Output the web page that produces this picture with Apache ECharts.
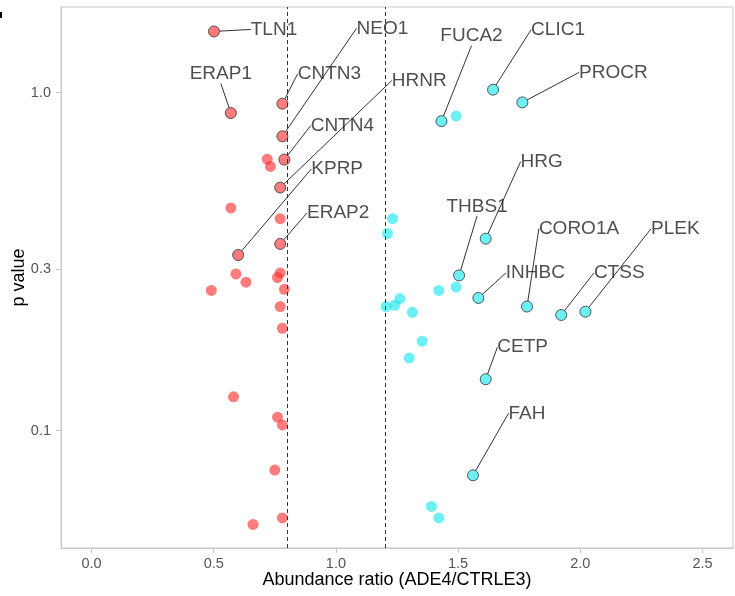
<!DOCTYPE html>
<html>
<head>
<meta charset="utf-8">
<script src="https://cdn.jsdelivr.net/npm/echarts@6/dist/echarts.min.js"></script>
<style>html,body{margin:0;padding:0;background:#fff;}#c{width:735px;height:596px;}</style>
</head>
<body>
<div id="c"></div>
<script>
// ---- data ----
const redX = [0.719,0.732,0.570,0.772,0.591,0.632,0.490,0.772,0.761,0.789,0.772,0.781,0.581,0.761,0.781,0.750,0.781,0.661];
const redP = [0.636,0.605,0.456,0.424,0.291,0.275,0.260,0.293,0.284,0.262,0.233,0.201,0.126,0.1097,0.104,0.0765,0.0552,0.0528];

const redLabNames = ['TLN1','ERAP1','CNTN3','NEO1','CNTN4','HRNR','KPRP','ERAP2'];
const redLabX = [0.501,0.570,0.781,0.781,0.789,0.772,0.600,0.772];
const redLabP = [1.518,0.871,0.928,0.743,0.634,0.524,0.331,0.357];

const cyanX = [1.492,1.232,1.211,1.421,1.492,1.262,1.205,1.241,1.313,1.353,1.300,1.391,1.421];
const cyanP = [0.853,0.424,0.383,0.260,0.266,0.246,0.233,0.235,0.224,0.184,0.164,0.0597,0.0552];

const cyanLabNames = ['CLIC1','PROCR','FUCA2','HRG','THBS1','INHBC','CORO1A','CTSS','PLEK','CETP','FAH'];
const cyanLabX = [1.643,1.763,1.432,1.613,1.504,1.583,1.782,1.922,2.021,1.613,1.561];
const cyanLabP = [1.021,0.936,0.824,0.370,0.288,0.247,0.233,0.220,0.225,0.142,0.0738];

const xTicks = [0.0,0.5,1.0,1.5,2.0,2.5];
const yTicks = [0.1,0.3,1.0];
const cutoffs = [0.8,1.2];

// label offsets (px) from point to label centre (layout only)
const redLabOffset = [[60,-2],[-10,-39],[47,-30],[100,-108],[58,-34],[139,-107],[99,-86],[58,-31]];
const cyanLabOffset = [[65,-60],[91,-30],[30,-85],[56,-77],[18,-69],[57,-25],[52,-78],[58,-42],[90,-83],[37,-32],[54,-62]];

// ---- chart ----
const RED = 'rgba(255,45,45,0.78)';
const CYAN = 'rgba(0,229,238,0.72)';
const FONT = 'Liberation Sans';

function zip(xs, ys, names){
  return xs.map((x,i)=> names ? {name:names[i], value:[x, ys[i]]} : [x, ys[i]]);
}

function labelSeries(xs, ys, names, offsets, color){
  return {
    type:'scatter',
    data: zip(xs, ys, names),
    symbolSize: 11,
    itemStyle:{color: color, borderColor:'#333', borderWidth:1},
    label:{show:true, position:'inside', formatter: p=>p.name, fontSize:19, color:'#222', fontFamily:FONT},
    labelLine:{show:true, lineStyle:{color:'#333', width:1}},
    labelLayout: function(params){
      const o = offsets[params.dataIndex];
      return {dx:o[0], dy:o[1], hideOverlap:false};
    },
    emphasis:{disabled:true},
    z:3
  };
}

const chart = echarts.init(document.getElementById('c'), null, {renderer:'canvas'});
chart.setOption({
  animation:false,
  backgroundColor:'#ffffff',
  grid:{left:61, top:7, right:2, bottom:48, show:true, borderColor:'#c8c8c8', borderWidth:1,
        backgroundColor:'transparent', containLabel:false, outerBoundsMode:'none'},
  xAxis:{
    type:'value', min:-0.125, max:2.625,
    name:'Abundance ratio (ADE4/CTRLE3)', nameLocation:'middle', nameGap:23, nameMoveOverlap:false,
    nameTextStyle:{fontSize:18, color:'#000', fontFamily:FONT},
    axisLine:{show:true, onZero:false, lineStyle:{color:'#c8c8c8'}},
    axisTick:{show:true, customValues:xTicks, length:5, lineStyle:{color:'#c8c8c8'}},
    axisLabel:{customValues:xTicks, formatter:v=>Number(v).toFixed(1), fontSize:14.5, color:'#555', margin:8, fontFamily:FONT},
    splitLine:{show:false}
  },
  yAxis:{
    type:'log', logBase:10, min:0.04498, max:1.793,
    name:'p value', nameLocation:'middle', nameGap:33, nameRotate:90, nameMoveOverlap:false,
    nameTextStyle:{fontSize:18, color:'#000', fontFamily:FONT},
    axisLine:{show:true, onZero:false, lineStyle:{color:'#c8c8c8'}},
    axisTick:{show:true, customValues:yTicks, length:5, lineStyle:{color:'#c8c8c8'}},
    axisLabel:{customValues:yTicks, formatter:v=>Number(v).toFixed(1), fontSize:14.5, color:'#555', margin:10, fontFamily:FONT},
    splitLine:{show:false}
  },
  graphic:[{type:'rect', left:0, top:12, shape:{width:2, height:6}, style:{fill:'#000'}}],
  series:[
    {
      type:'scatter', data:[], silent:true,
      markLine:{
        symbol:['none','none'], silent:true, label:{show:false},
        lineStyle:{type:[4,3], color:'#333', width:1},
        data: cutoffs.map(c=>({xAxis:c}))
      }
    },
    {type:'scatter', data:zip(redX, redP), symbolSize:11, itemStyle:{color:RED}, emphasis:{disabled:true}, z:2},
    {type:'scatter', data:zip(cyanX, cyanP), symbolSize:11, itemStyle:{color:CYAN}, emphasis:{disabled:true}, z:2},
    labelSeries(redLabX, redLabP, redLabNames, redLabOffset, RED),
    labelSeries(cyanLabX, cyanLabP, cyanLabNames, cyanLabOffset, CYAN)
  ]
});
</script>
</body>
</html>
